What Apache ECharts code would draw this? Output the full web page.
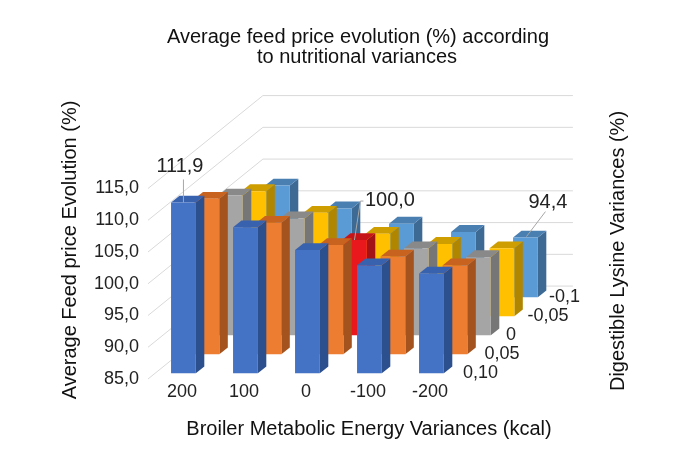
<!DOCTYPE html>
<html>
<head>
<meta charset="utf-8">
<script src="https://cdn.jsdelivr.net/npm/echarts@6/dist/echarts.min.js"></script>
<style>
html,body{margin:0;padding:0;background:#fff}
#main{width:696px;height:471px}
</style>
</head>
<body>
<div id="main"></div>
<script>
// energy variances (kcal), x axis
var energyCats = ['200', '100', '0', '-100', '-200'];
// lysine variances (%), front row first
var lysineRows = ['0,10', '0,05', '0', '-0,05', '-0,1'];
var yTicks = [85, 90, 95, 100, 105, 110, 115];

var lys010 = [111.9, 108.0, 104.4, 102.0, 100.7];
var lys005 = [109.5, 105.7, 102.2, 100.4, 99.0];
var lys000 = [107.0, 103.4, 100.0, 98.7, 97.3];
var lysM005 = [104.7, 101.3, 98.0, 96.4, 95.7];
var lysM010 = [102.6, 99.0, 96.6, 95.3, 94.4];

// [energy index, lysine row] of the bars with a value label
var labelCells = [[0, 0], [2, 2], [4, 4]];
// reference bar (0 kcal / 0 %), drawn in red
var refCell = [2, 2];

var rows = [lys010, lys005, lys000, lysM005, lysM010];

// fake 3d: screen shift for one lysine row
var FONT = '"Liberation Sans", Arial, sans-serif';
var DX = 23.5, DY = -19;
var rowFront = 0.3, barDepth = 0.36, wallDepth = 4.89;
var colors = [
	{front: '#4472C4', side: '#2C4F8E', top: '#3862AE'},
	{front: '#ED7D31', side: '#A4531E', top: '#C8621F'},
	{front: '#A5A5A5', side: '#767676', top: '#898989'},
	{front: '#FFC000', side: '#B08600', top: '#CE9D00'},
	{front: '#5B9BD5', side: '#3C6A95', top: '#4A7FB2'}
];
var redFace = {front: '#E8181D', side: '#A31216', top: '#C61519'};
var labelStyle = [
	{tx: -3.5, ty: -36.5, line: [[0, 0], [0, -23]]},
	{tx: 35.5, ty: -40, line: [[0, 0], [6, -39], [9, -39]]},
	{tx: 22.5, ty: -35.5, line: [[1, -1], [20, -26]]}
];

function fmt(v){
	return v.toFixed(1).replace('.', ',');
}

// front face position of a bar
function barBox(api, i, v, k){
	var band = api.size([1, 0])[0];
	var base = api.coord([i, yTicks[0]]);
	var top = api.coord([i, v]);
	var d = k + rowFront;
	return {
		x: base[0] - band / 2 + 0.258 * band + d * DX,
		w: 0.4 * band,
		yb: base[1] + d * DY,
		yt: top[1] + d * DY
	};
}

function barRenderer(k){
	return function(params, api){
		var i = api.value(0), v = api.value(1);
		var b = barBox(api, i, v, k);
		var ox = barDepth * DX, oy = barDepth * DY;
		var c = (i === refCell[0] && k === refCell[1]) ? redFace : colors[k];
		var xr = b.x + b.w;
		return {type: 'group', children: [
			{type: 'polygon', shape: {points: [[xr, b.yb], [xr + ox, b.yb + oy], [xr + ox, b.yt + oy], [xr, b.yt]]}, style: {fill: c.side}},
			{type: 'polygon', shape: {points: [[b.x, b.yt], [xr, b.yt], [xr + ox, b.yt + oy], [b.x + ox, b.yt + oy]]}, style: {fill: c.top}},
			{type: 'rect', shape: {x: b.x, y: b.yt, width: b.w, height: b.yb - b.yt}, style: {fill: c.front}}
		]};
	};
}

function gridRenderer(params, api){
	var p = api.coord([0, api.value(1)]);
	var band = api.size([1, 0])[0];
	var left = p[0] - band / 2, right = left + energyCats.length * band;
	var bx = wallDepth * DX, by = wallDepth * DY;
	return {type: 'polyline', shape: {points: [[left, p[1]], [left + bx, p[1] + by], [right + bx, p[1] + by]]},
		style: {stroke: '#D9D9D9', lineWidth: 1, fill: null}};
}

function depthLabelRenderer(params, api){
	var k = api.value(2);
	var p = api.coord([energyCats.length - 1, yTicks[0]]);
	var band = api.size([1, 0])[0];
	return {type: 'text', x: p[0] + band / 2 + 5 + 21.5 * k, y: p[1] - 6 - 19 * k,
		style: {text: lysineRows[k], font: '18px ' + FONT, fill: '#222', align: 'left', verticalAlign: 'middle'}};
}

function valueLabelRenderer(params, api){
	var i = api.value(0), v = api.value(1), k = api.value(2), s = labelStyle[api.value(3)];
	var b = barBox(api, i, v, k);
	var cx = b.x + b.w / 2, cy = b.yt;
	var pts = s.line.map(function(q){ return [cx + q[0], cy + q[1]]; });
	return {type: 'group', children: [
		{type: 'polyline', shape: {points: pts}, style: {stroke: '#A6A6A6', lineWidth: 1, fill: null}},
		{type: 'text', x: cx + s.tx, y: cy + s.ty,
			style: {text: fmt(v), font: '20px ' + FONT, fill: '#222', align: 'center', verticalAlign: 'middle'}}
	]};
}

var series = [];
series.push({
	type: 'custom', renderItem: gridRenderer, silent: true,
	data: yTicks.map(function(t){ return [0, t]; })
});
for(var k = rows.length - 1; k >= 0; k--){
	series.push({
		type: 'custom', name: lysineRows[k], renderItem: barRenderer(k), silent: true,
		data: rows[k].map(function(v, i){ return [i, v]; })
	});
}
series.push({
	type: 'custom', renderItem: depthLabelRenderer, silent: true,
	data: lysineRows.map(function(t, k){ return [energyCats.length - 1, yTicks[0], k]; })
});
series.push({
	type: 'custom', renderItem: valueLabelRenderer, silent: true,
	data: labelCells.map(function(c, n){ return [c[0], rows[c[1]][c[0]], c[1], n]; })
});

var myChart = echarts.init(document.getElementById('main'));
var option = {
	animation: false,
	grid: {left: 148, right: 238, top: 188.5, bottom: 92},
	xAxis: {
		type: 'category', data: energyCats,
		axisLine: {show: false}, axisTick: {show: false}, splitLine: {show: false},
		axisLabel: {fontSize: 18, fontFamily: FONT, color: '#222', margin: 4, padding: [0, 0, 0, 6]}
	},
	yAxis: {
		type: 'value', min: 85, max: 115, interval: 5,
		axisLine: {show: false}, axisTick: {show: false}, splitLine: {show: false},
		axisLabel: {fontSize: 18, fontFamily: FONT, color: '#222', margin: 9, formatter: fmt}
	},
	graphic: [
		{type: 'text', x: 358, y: 37, style: {text: 'Average feed price evolution (%) according', font: '20px ' + FONT, fill: '#111', align: 'center', verticalAlign: 'middle'}},
		{type: 'text', x: 357, y: 57, style: {text: 'to nutritional variances', font: '20px ' + FONT, fill: '#111', align: 'center', verticalAlign: 'middle'}},
		{type: 'text', x: 70, y: 250, rotation: Math.PI / 2, style: {text: 'Average Feed price Evolution (%)', font: '20px ' + FONT, fill: '#111', align: 'center', verticalAlign: 'middle'}},
		{type: 'text', x: 618, y: 251, rotation: Math.PI / 2, style: {text: 'Digestible Lysine Variances (%)', font: '20px ' + FONT, fill: '#111', align: 'center', verticalAlign: 'middle'}},
		{type: 'text', x: 369, y: 429, style: {text: 'Broiler Metabolic Energy Variances (kcal)', font: '20px ' + FONT, fill: '#111', align: 'center', verticalAlign: 'middle'}}
	],
	series: series
};
myChart.setOption(option);
</script>
</body>
</html>
